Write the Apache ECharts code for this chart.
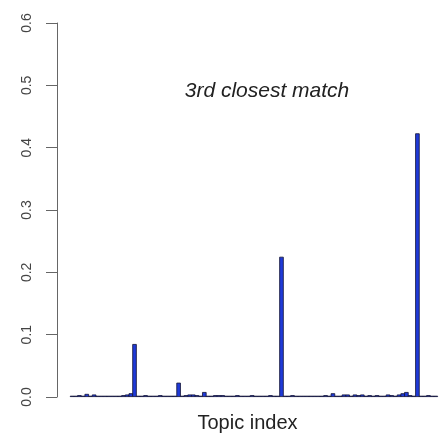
<!DOCTYPE html>
<html>
<head>
<meta charset="utf-8">
<script src="https://cdn.jsdelivr.net/npm/echarts@6/dist/echarts.min.js"></script>
<style>html,body{margin:0;padding:0;background:#fff}#c{width:440px;height:439px}</style>
</head>
<body>
<div id="c"></div>
<script>
const title = "3rd closest match";
const xTitle = "Topic index";
const yTicks = [0, 0.1, 0.2, 0.3, 0.4, 0.5, 0.6];
const topicIndex = Array.from({length: 100}, (_, i) => i + 1);
const weights = [
  0.002, 0.002, 0.003, 0.002, 0.005, 0.002, 0.004, 0.002, 0.002, 0.002,
  0.002, 0.002, 0.002, 0.002, 0.003, 0.004, 0.006, 0.085, 0.002, 0.002,
  0.003, 0.002, 0.002, 0.002, 0.003, 0.002, 0.002, 0.002, 0.002, 0.023,
  0.002, 0.003, 0.004, 0.004, 0.003, 0.002, 0.008, 0.002, 0.002, 0.003,
  0.003, 0.003, 0.002, 0.002, 0.002, 0.003, 0.002, 0.002, 0.002, 0.003,
  0.002, 0.002, 0.002, 0.002, 0.003, 0.002, 0.002, 0.225, 0.002, 0.002,
  0.003, 0.002, 0.002, 0.002, 0.002, 0.002, 0.002, 0.002, 0.002, 0.003,
  0.002, 0.006, 0.002, 0.002, 0.004, 0.004, 0.002, 0.004, 0.003, 0.004,
  0.002, 0.003, 0.002, 0.003, 0.002, 0.002, 0.004, 0.003, 0.002, 0.004,
  0.006, 0.008, 0.003, 0.002, 0.423, 0.002, 0.002, 0.003, 0.002, 0.002
];
const chart = echarts.init(document.getElementById('c'));
chart.setOption({
  animation: false,
  title: {
    text: title, left: 262, top: 76, textAlign: 'center',
    textStyle: {fontFamily: 'Liberation Sans', fontStyle: 'italic', fontWeight: 'normal', fontSize: 21, color: '#222'}
  },
  grid: {left: 57, right: 2, top: 23, bottom: 42, outerBoundsMode: 'none', containLabel: false},
  xAxis: {
    type: 'value', min: -3.1, max: 100.6,
    name: xTitle, nameLocation: 'middle', nameGap: 16,
    nameTextStyle: {fontFamily: 'Liberation Sans', fontSize: 20, color: '#222'},
    axisLine: {show: false}, axisTick: {show: false}, axisLabel: {show: false}, splitLine: {show: false}
  },
  yAxis: {
    type: 'value', min: yTicks[0], max: yTicks[yTicks.length - 1], interval: 0.1,
    axisLine: {show: true, onZero: false, lineStyle: {color: '#666', width: 1}},
    axisTick: {show: true, length: 11, lineStyle: {color: '#666'}},
    axisLabel: {rotate: 90, margin: 23, fontFamily: 'Liberation Sans', fontSize: 14, color: '#444',
      formatter: v => v.toFixed(1)},
    splitLine: {show: false}
  },
  series: [{
    type: 'bar', barWidth: 4.5,
    data: topicIndex.map((t, i) => [t, weights[i]]),
    itemStyle: {color: '#1f3ad8', borderColor: '#111133', borderWidth: 0.8}
  }]
});
</script>
</body>
</html>
